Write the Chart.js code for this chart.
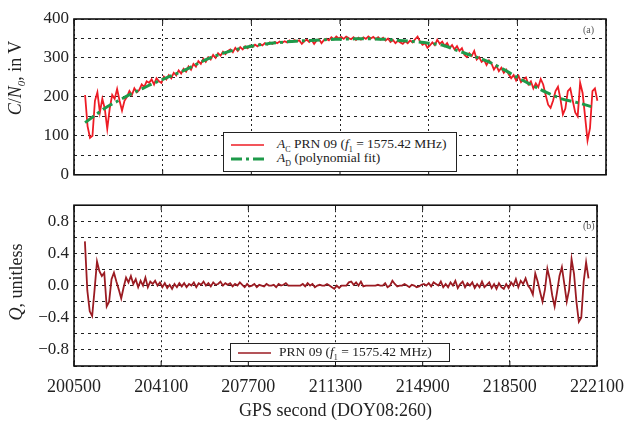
<!DOCTYPE html>
<html>
<head>
<meta charset="utf-8">
<script src="https://cdn.jsdelivr.net/npm/chart.js@4.4.0/dist/chart.umd.min.js"></script>
<style>
  body { margin: 0; background: #fff; }
  #wrap { position: relative; width: 634px; height: 426px; font-family: "Liberation Serif", "DejaVu Serif", serif; color: #222; }
  canvas { position: absolute; left: 0; }
  #topChart { top: 0; }
  #bottomChart { top: 190px; }
  .ylab { position: absolute; font-size: 18px; white-space: nowrap; transform: translate(-50%, -50%) rotate(-90deg); }
  .ylab sub { font-size: 11px; }
  .legend { position: absolute; background: #fff; border: 1.3px solid #222; box-sizing: border-box; font-size: 13.5px; }
  .legend svg { position: absolute; left: 6px; }
  .legend span { position: absolute; left: 53px; white-space: nowrap; line-height: 14px; }
  .legend sub { font-size: 8px; }
  .panel { position: absolute; font-size: 10px; color: #555; }
</style>
</head>
<body>
<div id="wrap">
  <canvas id="topChart" width="634" height="190"></canvas>
  <canvas id="bottomChart" width="634" height="236"></canvas>

  <div class="ylab" style="left:16px; top:78px;"><i>C</i>/<i>N</i><sub><i>0</i></sub>, in V</div>
  <div class="ylab" style="left:16px; top:282px;"><i>Q</i>, unitless</div>

  <div class="legend" style="left:223px; top:132px; width:234px; height:40px;">
    <svg width="36" height="12" style="top:6px"><line x1="1" y1="6" x2="34" y2="6" stroke="#ee1c25" stroke-width="1.5"/></svg>
    <span style="top:4px"><i>A</i><sub>C</sub> PRN 09 (<i>f</i><sub>1</sub> = 1575.42 MHz)</span>
    <svg width="36" height="12" style="top:20px"><line x1="1" y1="6" x2="34" y2="6" stroke="#1e9a4a" stroke-width="3" stroke-dasharray="11 4 3 4"/></svg>
    <span style="top:18px"><i>A</i><sub>D</sub> (polynomial fit)</span>
  </div>

  <div class="legend" style="left:230px; top:343px; width:220px; height:19px;">
    <svg width="36" height="12" style="top:3px"><line x1="1" y1="6" x2="34" y2="6" stroke="#9b1b22" stroke-width="1.5"/></svg>
    <span style="top:1px; left:48px">PRN 09 (<i>f</i><sub>1</sub> = 1575.42 MHz)</span>
  </div>

  <div class="panel" style="left:583px; top:24px;">(a)</div>
  <div class="panel" style="left:583px; top:220px;">(b)</div>
</div>

<script>
// sample grid of the measured series (GPS seconds)
const sampleStart = 200950;
const sampleStep = 100;

// A_C, C/N0 in V (one value per 100 s)
const cn0Values = [
  205, 125, 95, 100, 190, 212, 160, 195, 170, 118,
  170, 205, 195, 220, 190, 165, 190, 200, 215, 205,
  222, 212, 218, 232, 225, 240, 236, 245, 232, 248,
  240, 236, 252, 245, 256, 248, 262, 255, 268, 260,
  272, 265, 278, 270, 285, 278, 292, 285, 298, 290,
  302, 296, 308, 300, 312, 306, 316, 310, 318, 322,
  315, 326, 318, 328, 322, 330, 325, 332, 328, 334,
  330, 336, 332, 338, 334, 340, 336, 341, 338, 342,
  339, 343, 340, 345, 341, 346, 343, 345, 336, 343,
  347, 341, 346, 336, 345, 348, 338, 346, 349, 345,
  353, 348, 355, 350, 354, 349, 355, 351, 348, 353,
  346, 352, 347, 353, 349, 355, 350, 354, 348, 353,
  347, 352, 345, 350, 341, 346, 338, 344, 340, 336,
  343, 338, 345, 340, 348, 355, 342, 334, 338, 326,
  332, 340, 333, 347, 336, 342, 331, 338, 326, 333,
  322, 330, 318, 325, 308, 302, 312, 305, 318, 296,
  302, 290, 295, 282, 294, 286, 270, 280, 266, 275,
  262, 270, 258, 248, 256, 242, 254, 238, 245, 250,
  232, 240, 222, 235, 225, 246, 232, 205, 180, 172,
  190, 215, 226, 195, 155, 170, 215, 222, 190, 160,
  150, 236, 210, 150, 88, 120, 215, 222, 190
];

// A_D, polynomial fit
const fitTimes = [
  200950, 201400, 201800, 202300, 202800, 203300, 203700, 204100, 204600, 205100,
  205600, 206100, 206600, 207100, 207700, 208300, 208900, 209500, 210100, 210700,
  211300, 211900, 212500, 213100, 213700, 214300, 214900, 215500, 216100, 216700,
  217300, 217900, 218500, 219100, 219700, 220300, 220900, 221500
];
const fitValues = [
  134, 155, 173, 190, 207, 222, 234, 245, 258, 272,
  288, 302, 313, 322, 330, 336, 340, 343, 345, 347,
  348, 349, 349, 348, 345, 342, 338, 332, 318, 305,
  291, 272, 250, 230, 211, 195, 186, 175
];

// Q, unitless (one value per 100 s)
const qValues = [
  0.55, -0.06, -0.32, -0.38, -0.05, 0.30, 0.18, 0.12, 0.16, -0.26,
  -0.20, 0.08, 0.16, 0.05, -0.05, -0.16, -0.02, 0.10, 0.04, 0.12,
  0.02, 0.08, -0.02, 0.06, 0.00, 0.10, -0.02, 0.05, 0.02, 0.06,
  0.00, 0.04, -0.02, 0.03, -0.03, 0.01, -0.04, 0.02, -0.02, 0.03,
  -0.01, 0.03, -0.02, 0.02, 0.00, 0.04, -0.02, 0.03, 0.01, 0.05,
  0.00, 0.03, -0.01, 0.04, 0.01, 0.02, 0.05, 0.00, 0.03, 0.01,
  0.03, -0.01, 0.02, 0.00, 0.04, 0.01, -0.02, 0.02, -0.01, 0.00,
  0.02, -0.02, 0.01, 0.00, -0.01, 0.02, 0.00, 0.00, 0.01, -0.02,
  0.02, 0.00, 0.01, 0.03, 0.00, 0.00, 0.00, 0.00, 0.00, 0.00,
  0.02, -0.01, 0.03, 0.00, 0.02, -0.02, 0.00, 0.01, 0.00, 0.00,
  0.02, 0.00, -0.02, -0.04, 0.00, -0.03, 0.00, 0.00, 0.00, 0.04,
  0.05, 0.01, 0.04, 0.00, 0.05, -0.01, 0.00, 0.00, 0.00, 0.00,
  0.00, 0.01, 0.00, 0.00, 0.03, -0.02, 0.00, 0.06, 0.02, -0.01,
  0.00, 0.00, 0.02, 0.00, -0.02, 0.01, 0.00, -0.02, -0.01, 0.01,
  0.02, 0.00, 0.03, -0.01, 0.04, 0.02, 0.00, 0.05, -0.02, 0.02,
  -0.02, 0.04, 0.00, 0.06, -0.03, 0.02, 0.05, -0.02, 0.03, 0.00,
  0.04, -0.03, 0.02, -0.02, 0.05, -0.02, 0.01, 0.04, -0.03, 0.02,
  -0.04, 0.03, -0.02, -0.04, 0.02, -0.03, 0.04, 0.00, 0.08, -0.02,
  0.06, 0.02, 0.09, 0.00, -0.04, -0.11, 0.15, 0.05, -0.08, -0.20,
  -0.05, 0.21, 0.08, -0.12, -0.26, -0.08, 0.12, 0.23, 0.02, -0.20,
  -0.05, 0.33, 0.15, -0.20, -0.45, -0.40, 0.05, 0.29, 0.09
];

const xTicks = [200500, 204100, 207700, 211300, 214900, 218500, 222100];

const sampleTimes = cn0Values.map((_, i) => sampleStart + i * sampleStep);
const toPoints = (xs, ys) => ys.map((y, i) => ({ x: xs[i], y: y }));

Chart.defaults.font.family = '"Liberation Serif", "DejaVu Serif", serif';
Chart.defaults.color = '#222';

const framePlugin = {
  id: 'frame',
  afterDraw(chart) {
    const { ctx, chartArea: a, scales } = chart;
    ctx.save();
    ctx.strokeStyle = '#111';
    ctx.lineWidth = 1;
    xTicks.forEach(t => {
      const px = scales.x.getPixelForValue(t);
      ctx.beginPath();
      ctx.moveTo(px, a.bottom);
      ctx.lineTo(px, a.bottom - 5);
      ctx.moveTo(px, a.top);
      ctx.lineTo(px, a.top + 5);
      ctx.stroke();
    });
    ctx.lineWidth = 1.6;
    ctx.strokeRect(a.left, a.top, a.right - a.left, a.bottom - a.top);
    ctx.restore();
  }
};

const xScale = (showLabels) => ({
  type: 'linear',
  min: xTicks[0],
  max: xTicks[xTicks.length - 1],
  afterBuildTicks: s => { s.ticks = xTicks.map(v => ({ value: v })); },
  ticks: {
    display: showLabels,
    font: { size: 18 },
    padding: 10,
    maxRotation: 0,
    autoSkip: false,
    callback: v => String(v)
  },
  grid: { color: '#222', lineWidth: 1, drawTicks: false },
  border: { display: false, dash: [2, 3] },
  title: {
    display: showLabels,
    text: 'GPS second (DOY08:260)',
    font: { size: 18 },
    padding: { top: 0, bottom: 4 }
  },
  afterFit: s => { s.height = showLabels ? 60 : 14; }
});

new Chart(document.getElementById('topChart'), {
  type: 'line',
  data: {
    datasets: [
      {
        label: 'A_D (polynomial fit)',
        data: toPoints(fitTimes, fitValues),
        borderColor: '#1e9a4a',
        borderWidth: 3,
        borderDash: [11, 4, 3, 4],
        pointRadius: 0,
        cubicInterpolationMode: 'monotone',
        order: 0
      },
      {
        label: 'A_C PRN 09',
        data: toPoints(sampleTimes, cn0Values),
        borderColor: '#ee1c25',
        borderWidth: 1.8,
        pointRadius: 0,
        tension: 0,
        order: 1
      }
    ]
  },
  options: {
    responsive: false,
    animation: false,
    events: [],
    layout: { padding: { top: 19, right: 28, left: 0, bottom: 0 } },
    plugins: { legend: { display: false }, tooltip: { enabled: false } },
    scales: {
      x: xScale(false),
      y: {
        min: 0,
        max: 400,
        ticks: {
          stepSize: 50,
          autoSkip: false,
          font: { size: 17 },
          padding: 5,
          callback: v => (v % 100 === 0 ? String(v) : '')
        },
        grid: { color: '#222', lineWidth: 1, drawTicks: false },
        border: { display: false, dash: [3, 4] },
        afterFit: s => { s.width = 74; }
      }
    }
  },
  plugins: [framePlugin]
});

new Chart(document.getElementById('bottomChart'), {
  type: 'line',
  data: {
    datasets: [
      {
        label: 'PRN 09',
        data: toPoints(sampleTimes, qValues),
        borderColor: '#9b1b22',
        borderWidth: 1.8,
        pointRadius: 0,
        tension: 0
      }
    ]
  },
  options: {
    responsive: false,
    animation: false,
    events: [],
    layout: { padding: { top: 12, right: 28, left: 0, bottom: 0 } },
    plugins: { legend: { display: false }, tooltip: { enabled: false } },
    scales: {
      x: xScale(true),
      y: {
        min: -1,
        max: 1,
        ticks: {
          stepSize: 0.2,
          autoSkip: false,
          font: { size: 17 },
          padding: 5,
          callback: v => {
            const r = Math.round(v * 10);
            if (Math.abs(r) === 10 || Math.abs(r) % 4 !== 0) return '';
            return (r / 10).toFixed(1).replace('-', '\u2212');
          }
        },
        grid: { color: '#222', lineWidth: 1, drawTicks: false },
        border: { display: false, dash: [3, 4] },
        afterFit: s => { s.width = 74; }
      }
    }
  },
  plugins: [framePlugin]
});
</script>
</body>
</html>
